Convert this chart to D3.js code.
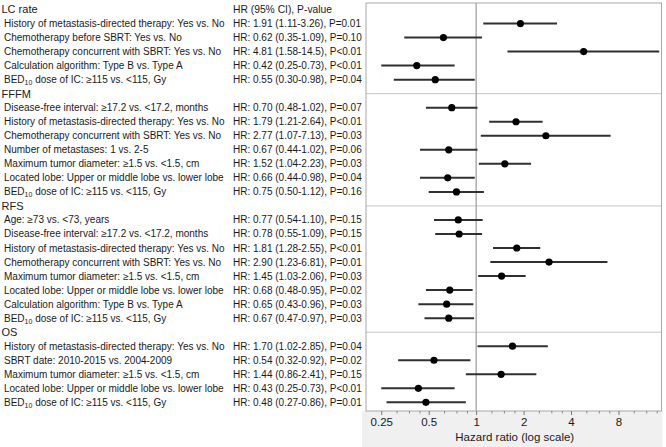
<!DOCTYPE html>
<html><head><meta charset="utf-8">
<script src="https://cdn.jsdelivr.net/npm/d3@7"></script>
<style>body{margin:0;background:#fff}svg{display:block}text{font-family:"Liberation Sans",Arial,sans-serif;fill:#1a1a1a}</style>
</head><body><svg id="c" width="666" height="447"></svg>
<script>
// ---- data ----
const groups = ["LC rate", "FFFM", "RFS", "OS"];
const labels = [
  ["History of metastasis-directed therapy: Yes vs. No","Chemotherapy before SBRT: Yes vs. No","Chemotherapy concurrent with SBRT: Yes vs. No","Calculation algorithm: Type B vs. Type A","BED|10| dose of IC: ≥115 vs. <115, Gy"],
  ["Disease-free interval: ≥17.2 vs. <17.2, months","History of metastasis-directed therapy: Yes vs. No","Chemotherapy concurrent with SBRT: Yes vs. No","Number of metastases: 1 vs. 2-5","Maximum tumor diameter: ≥1.5 vs. <1.5, cm","Located lobe: Upper or middle lobe vs. lower lobe","BED|10| dose of IC: ≥115 vs. <115, Gy"],
  ["Age: ≥73 vs. <73, years","Disease-free interval: ≥17.2 vs. <17.2, months","History of metastasis-directed therapy: Yes vs. No","Chemotherapy concurrent with SBRT: Yes vs. No","Maximum tumor diameter: ≥1.5 vs. <1.5, cm","Located lobe: Upper or middle lobe vs. lower lobe","Calculation algorithm: Type B vs. Type A","BED|10| dose of IC: ≥115 vs. <115, Gy"],
  ["History of metastasis-directed therapy: Yes vs. No","SBRT date: 2010-2015 vs. 2004-2009","Maximum tumor diameter: ≥1.5 vs. <1.5, cm","Located lobe: Upper or middle lobe vs. lower lobe","BED|10| dose of IC: ≥115 vs. <115, Gy"]
];
const hr = [
  [1.91, 0.62, 4.81, 0.42, 0.55],
  [0.70, 1.79, 2.77, 0.67, 1.52, 0.66, 0.75],
  [0.77, 0.78, 1.81, 2.90, 1.45, 0.68, 0.65, 0.67],
  [1.70, 0.54, 1.44, 0.43, 0.48]
];
const lower = [
  [1.11, 0.35, 1.58, 0.25, 0.30],
  [0.48, 1.21, 1.07, 0.44, 1.04, 0.44, 0.50],
  [0.54, 0.55, 1.28, 1.23, 1.03, 0.48, 0.43, 0.47],
  [1.02, 0.32, 0.86, 0.25, 0.27]
];
const upper = [
  [3.26, 1.09, 14.5, 0.73, 0.98],
  [1.02, 2.64, 7.13, 1.02, 2.23, 0.98, 1.12],
  [1.10, 1.09, 2.55, 6.81, 2.06, 0.95, 0.96, 0.97],
  [2.85, 0.92, 2.41, 0.73, 0.86]
];
const pvals = [
  ["=0.01","=0.10","<0.01","<0.01","=0.04"],
  ["=0.07","<0.01","=0.03","=0.06","=0.03","=0.04","=0.16"],
  ["=0.15","=0.15","<0.01","=0.01","=0.03","=0.02","=0.03","=0.03"],
  ["=0.04","=0.02","=0.15","<0.01","=0.01"]
];
const hrDigits = [
  ["1.91 (1.11-3.26)","0.62 (0.35-1.09)","4.81 (1.58-14.5)","0.42 (0.25-0.73)","0.55 (0.30-0.98)"],
  ["0.70 (0.48-1.02)","1.79 (1.21-2.64)","2.77 (1.07-7.13)","0.67 (0.44-1.02)","1.52 (1.04-2.23)","0.66 (0.44-0.98)","0.75 (0.50-1.12)"],
  ["0.77 (0.54-1.10)","0.78 (0.55-1.09)","1.81 (1.28-2.55)","2.90 (1.23-6.81)","1.45 (1.03-2.06)","0.68 (0.48-0.95)","0.65 (0.43-0.96)","0.67 (0.47-0.97)"],
  ["1.70 (1.02-2.85)","0.54 (0.32-0.92)","1.44 (0.86-2.41)","0.43 (0.25-0.73)","0.48 (0.27-0.86)"]
];
const majorTicks = [0.25, 0.5, 1, 2, 4, 8];
const majorTickLabels = ["0.25", "0.5", "1", "2", "4", "8"];
const minorTicks = [0.3125, 0.375, 0.4375, 0.625, 0.75, 0.875, 1.25, 1.5, 1.75, 2.5, 3, 3.5, 5, 6, 7, 10, 12, 14];
const xDomain = [0.2, 15];

// ---- build rows ----
const rows = [];
groups.forEach((g, gi) => {
  rows.push({type: "header", text: g, gi});
  labels[gi].forEach((l, i) => rows.push({type: "item", text: l, hr: hr[gi][i], lo: lower[gi][i], hi: upper[gi][i],
    stat: "HR: " + hrDigits[gi][i] + ", P" + pvals[gi][i]}));
});

const svg = d3.select("#c");
const plotL = 366, plotR = 661.5, plotT = 3, plotB = 411;
const x = d3.scaleLog().domain(xDomain).range([plotL, plotR]);
const y = d3.scaleLinear().domain([0, rows.length - 1]).range([9.5, 9.5 + 14.03 * (rows.length - 1)]);

// axis background
svg.append("rect").attr("x", 362).attr("y", plotB).attr("width", plotR - 362 + 1).attr("height", 447 - plotB).attr("fill", "#f0f0f0");
svg.append("rect").attr("x", plotL).attr("y", plotT).attr("width", plotR - plotL).attr("height", plotB - plotT).attr("fill", "#fff");

// separators
rows.forEach((r, i) => {
  if (r.type === "header" && i > 0) {
    svg.append("line").attr("x1", plotL).attr("x2", plotR).attr("y1", y(i)).attr("y2", y(i)).attr("stroke", "#c4c4c4").attr("stroke-width", 1);
  }
});
// reference line at 1
svg.append("line").attr("x1", x(1)).attr("x2", x(1)).attr("y1", plotT).attr("y2", plotB).attr("stroke", "#9a9a9a").attr("stroke-width", 1.2);

// box
svg.append("rect").attr("x", plotL).attr("y", plotT).attr("width", plotR - plotL).attr("height", plotB - plotT).attr("fill", "none").attr("stroke", "#a8a8a8").attr("stroke-width", 1);

// axis
const axis = d3.axisBottom(x).tickValues(majorTicks).tickFormat((d, i) => majorTickLabels[i]).tickSize(4).tickPadding(3);
const ag = svg.append("g").attr("transform", `translate(0,${plotB})`).call(axis);
ag.select(".domain").remove();
ag.selectAll(".tick line").attr("stroke", "#777");
ag.selectAll(".tick text").attr("font-size", 11.5).attr("fill", "#1a1a1a").attr("font-family", "Liberation Sans, Arial, sans-serif");
const minorAxis = d3.axisBottom(x).tickValues(minorTicks).tickFormat("").tickSize(2.5);
const mg = svg.append("g").attr("transform", `translate(0,${plotB})`).call(minorAxis);
mg.select(".domain").remove();
mg.selectAll(".tick line").attr("stroke", "#888");

svg.append("text").attr("x", (plotL + plotR) / 2 + 1).attr("y", 441).attr("text-anchor", "middle").attr("font-size", 11.5).text("Hazard ratio (log scale)");

// column header
svg.append("text").attr("x", 233).attr("y", y(0)).attr("dy", "0.35em").attr("font-size", 10.3).text("HR (95% CI), P-value");

// labels
function addLabel(sel, txt) {
  const parts = txt.split("|");
  parts.forEach((p, k) => {
    const t = sel.append("tspan").text(p);
    if (k === 1) t.attr("font-size", "7px").attr("dy", "2");
    if (k === 2) t.attr("dy", "-2");
  });
}
rows.forEach((r, i) => {
  if (r.type === "header") {
    svg.append("text").attr("x", 1.5).attr("y", y(i)).attr("dy", "0.35em").attr("font-size", 11).text(r.text);
  } else {
    const t = svg.append("text").attr("x", 4).attr("y", y(i)).attr("dy", "0.35em").attr("font-size", 10);
    addLabel(t, r.text);
    svg.append("text").attr("x", 233).attr("y", y(i)).attr("dy", "0.35em").attr("font-size", 10).text(r.stat);
    svg.append("line").attr("x1", x(r.lo)).attr("x2", x(r.hi)).attr("y1", y(i)).attr("y2", y(i)).attr("stroke", "#303030").attr("stroke-width", 2);
    svg.append("circle").attr("cx", x(r.hr)).attr("cy", y(i)).attr("r", 3.6).attr("fill", "#000");
  }
});
</script></body></html>
